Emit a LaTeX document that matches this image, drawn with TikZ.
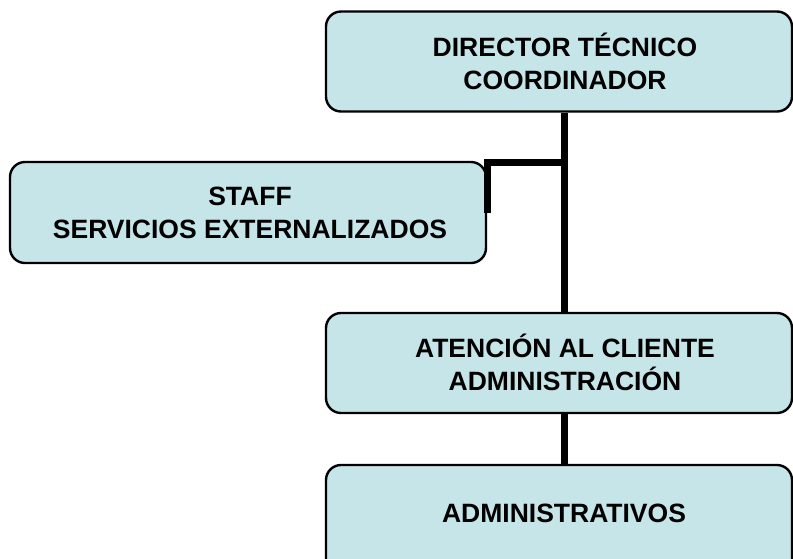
\documentclass[tikz,border=0pt]{standalone}
\usepackage{fontspec}
\setmainfont{Liberation Sans}
\definecolor{boxfill}{RGB}{197,229,233}
\begin{document}
\begin{tikzpicture}[x=1pt,y=-1pt,
  box/.style={draw=black,line width=2.4pt,fill=boxfill,rounded corners=15pt,inner sep=0pt},
  lbl/.style={align=center,font=\fontsize{26.5}{33}\selectfont\bfseries,inner sep=0pt},
  conn/.style={line width=7pt,line join=miter,line cap=butt}]
\useasboundingbox (0,0) rectangle (793,558);
\node[box,minimum width=466pt,minimum height=100pt] (dir) at (559,61.5) {};
\node[box,minimum width=476pt,minimum height=101pt] (staff) at (248,212.5) {};
\node[box,minimum width=466pt,minimum height=100pt] (aten) at (559,363) {};
\node[box,minimum width=466pt,minimum height=110pt] (adm) at (559,520) {};
\coordinate (trunk) at (564,162);
\draw[conn] (dir.south -| trunk) -- (aten.north -| trunk);
\draw[conn] (trunk) -| (staff.east);
\draw[conn] (aten.south -| trunk) -- (adm.north -| trunk);
\node[lbl] (tdir) at (565,61.5) {DIRECTOR TÉCNICO\\COORDINADOR};
\node[lbl] (tstaff) at (250,213) {STAFF\\SERVICIOS EXTERNALIZADOS};
\node[lbl] (taten) at (565,362) {ATENCIÓN AL CLIENTE\\ADMINISTRACIÓN};
\node[lbl] (tadm) at (564,513.5) {ADMINISTRATIVOS};
\end{tikzpicture}
\end{document}
